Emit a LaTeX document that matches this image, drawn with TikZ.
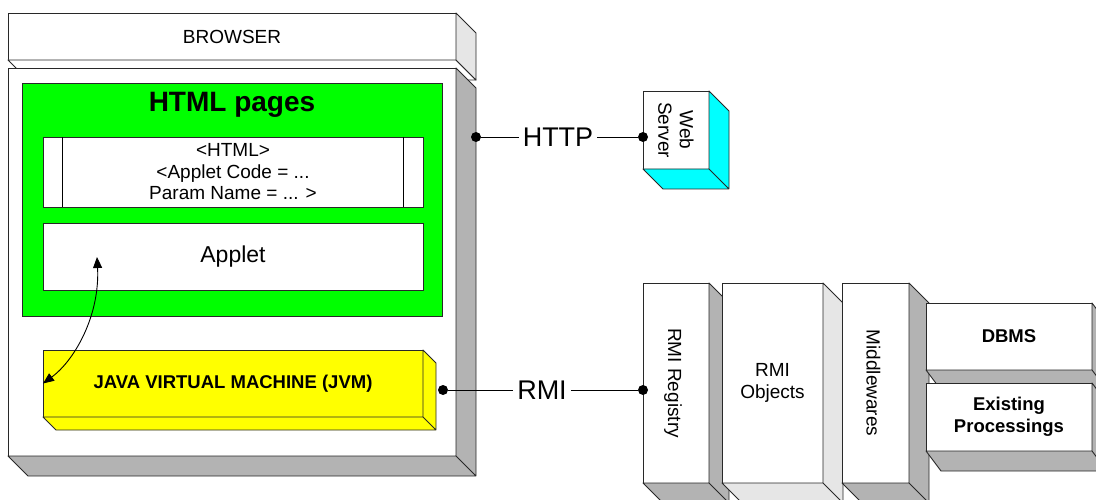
\documentclass[tikz,border=0pt]{standalone}
\usepackage{fontspec}
\setmainfont{Liberation Sans}
\usetikzlibrary{arrows.meta,positioning}
\definecolor{edgegray}{RGB}{40,40,40}
\definecolor{sidegray}{RGB}{179,179,179}
\definecolor{lightside}{RGB}{230,230,230}
\definecolor{htmlgreen}{RGB}{0,255,0}
\definecolor{jvmyellow}{RGB}{255,255,0}
\definecolor{servercyan}{RGB}{0,255,255}

\begin{document}
\begin{tikzpicture}[x=1pt,y=-1pt,
    face/.style={draw=edgegray, line width=0.9pt, fill=white, inner sep=0pt, outer sep=0pt, align=center, font=\fontsize{19}{21.5}\selectfont},
    depthface/.style={draw=edgegray, line width=0.9pt, line join=round},
    plaintext/.style={font=\fontsize{19}{21.5}\selectfont, align=center},
    boldtext/.style={font=\fontsize{18.5}{21.5}\selectfont\bfseries, align=center},
    bigtext/.style={font=\fontsize{27}{30}\selectfont, inner sep=4pt},
    dot/.style={circle, fill=black, inner sep=0pt, minimum size=10pt},
    link/.style={line width=0.9pt},
    dblarrow/.style={line width=0.9pt, {Triangle[length=11pt,width=9pt]}-{Triangle[length=11pt,width=9pt]}}
]
\useasboundingbox (0,0) rectangle (1096,500);
\clip (0,0) rectangle (1096,500);

% browser
\node[face, minimum width=448pt, minimum height=47pt] (browser) at (232,36.5) {BROWSER};
\draw[depthface, fill=white] (browser.south west) -- ++(20,20) -- ([shift={(20,20)}]browser.south east) -- (browser.south east) -- cycle;
\draw[depthface, fill=lightside] (browser.north east) -- ++(20,20) -- ([shift={(20,20)}]browser.south east) -- (browser.south east) -- cycle;

% browser frame
\node[face, minimum width=448pt, minimum height=388pt] (frame) at (232,262) {};
\draw[depthface, fill=sidegray] (frame.north east) -- ++(20,20) |- ([shift={(20,20)}]frame.south west) -- (frame.south west) -- (frame.south east) -- cycle (frame.south east) -- ++(20,20);

% html pages
\node[face, fill=htmlgreen, minimum width=420pt, minimum height=233pt] (pages) at (232,199.5) {};
\node[font=\fontsize{28}{32}\selectfont\bfseries] (pagestitle) at (232,105) {HTML pages};
\node[face, minimum width=380pt, minimum height=70pt] (code) at (233,172) {<HTML>\\<Applet Code = ...\\Param Name = ... >};
\draw[link] ([xshift=19pt]code.north west) -- ([xshift=19pt]code.south west)
            ([xshift=-20pt]code.north east) -- ([xshift=-20pt]code.south east);
\node[face, minimum width=380pt, minimum height=67pt, font=\fontsize{23}{26}\selectfont] (applet) at (233,256.5) {Applet};

% jvm
\node[face, fill=jvmyellow, minimum width=380pt, minimum height=67pt, font=\fontsize{18.5}{21}\selectfont\bfseries] (jvm) at (233,383.5) {JAVA VIRTUAL MACHINE (JVM)};
\draw[depthface, fill=jvmyellow] (jvm.north east) -- ++(13,13) |- ([shift={(13,13)}]jvm.south west) -- (jvm.south west) -- (jvm.south east) -- cycle (jvm.south east) -- ++(13,13);

\coordinate (appletpt) at (97,257);
\draw[dblarrow] (appletpt) .. controls (100,315) and (75,360) .. (jvm.west);

% web server
\node[face, minimum width=66pt, minimum height=78pt] (web) at (676,130) {};
\draw[depthface, fill=servercyan] (web.north east) -- ++(20,20) |- ([shift={(20,20)}]web.south west) -- (web.south west) -- (web.south east) -- cycle (web.south east) -- ++(20,20);
\node[plaintext, rotate=-90] (webtxt) at (web.center) {Web\\Server};

% http
\node[dot] (httpa) at (476,137) {};
\node[bigtext] (http) at (558,137) {HTTP};
\node[dot] (httpb) at (643,137) {};
\draw[link] (httpa) -- (http) -- (httpb);

% server side stack
\node[face, minimum width=66pt, minimum height=200pt] (registry) at (676,383) {};
\draw[depthface, fill=sidegray] (registry.north east) -- ++(20,20) |- ([shift={(20,20)}]registry.south west) -- (registry.south west) -- (registry.south east) -- cycle (registry.south east) -- ++(20,20);
\node[plaintext, rotate=-90] (registrytxt) at ([xshift=-3pt]registry.center) {RMI Registry};

\node[face, minimum width=101pt, minimum height=200pt] (objects) at (772.5,383) {RMI\\Objects};
\draw[depthface, fill=lightside] (objects.north east) -- ++(20,20) |- ([shift={(20,20)}]objects.south west) -- (objects.south west) -- (objects.south east) -- cycle (objects.south east) -- ++(20,20);

\node[face, minimum width=67pt, minimum height=200pt] (middle) at (875.5,383) {};
\draw[depthface, fill=sidegray] (middle.north east) -- ++(20,20) |- ([shift={(20,20)}]middle.south west) -- (middle.south west) -- (middle.south east) -- cycle (middle.south east) -- ++(20,20);
\node[plaintext, rotate=-90] (middletxt) at ([xshift=-2pt]middle.center) {Middlewares};

\node[face, boldtext, minimum width=166pt, minimum height=67pt] (dbms) at (1009,336.5) {DBMS};
\draw[depthface, fill=sidegray] (dbms.north east) -- ++(15,20) |- ([shift={(15,20)}]dbms.south west) -- (dbms.south west) -- (dbms.south east) -- cycle (dbms.south east) -- ++(15,20);

\node[face, boldtext, minimum width=166pt, minimum height=68pt] (existing) at (1009,417) {Existing\\Processings};
\draw[depthface, fill=sidegray] (existing.north east) -- ++(15,20) |- ([shift={(15,20)}]existing.south west) -- (existing.south west) -- (existing.south east) -- cycle (existing.south east) -- ++(15,20);

% rmi
\node[dot] (rmia) at (443,390) {};
\node[bigtext] (rmi) at (542,390) {RMI};
\node[dot] (rmib) at (643,390) {};
\draw[link] (rmia) -- (rmi) -- (rmib);

\end{tikzpicture}
\end{document}
